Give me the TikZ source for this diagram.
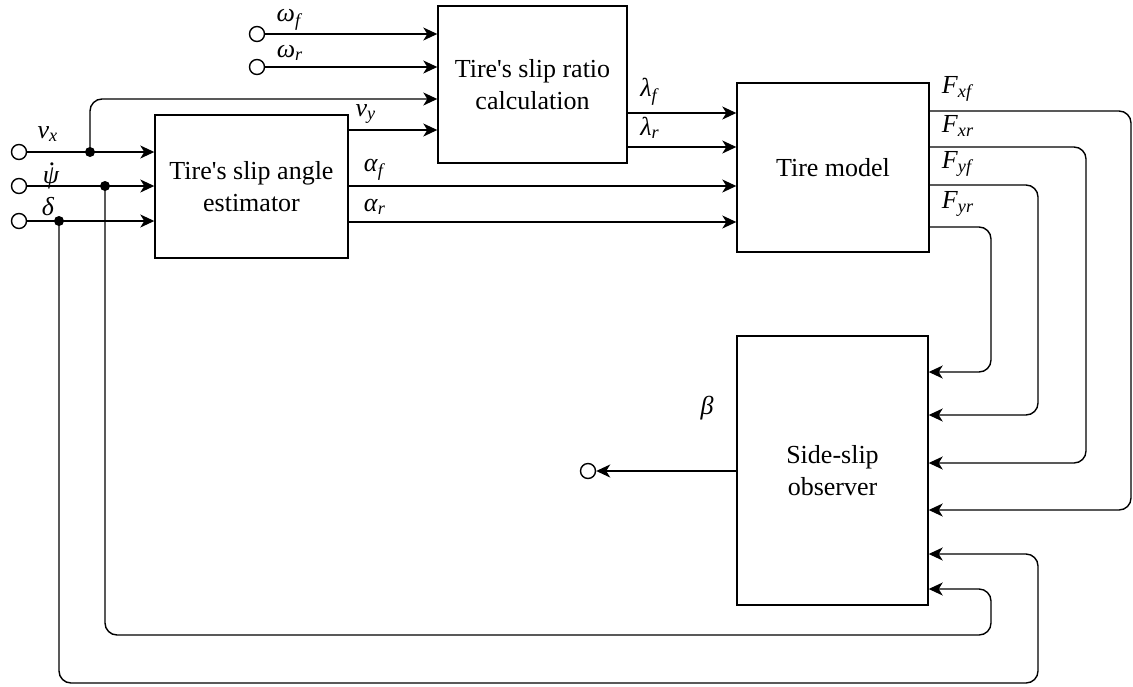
\documentclass[tikz,border=0pt]{standalone}
\usepackage{fontspec}
\setmainfont{Liberation Serif}
\usetikzlibrary{positioning, arrows.meta, calc}

% italic symbol with italic subscript
\newcommand{\sig}[2]{\textit{#1}\textsubscript{\textit{#2}}}
% yaw rate, psi with a dot on top
\newcommand{\yawrate}{\textit{ψ\llap{\raisebox{0.72em}{.}\hspace{0.12em}}}}

\begin{document}
\begin{tikzpicture}[x=0.5pt, y=-0.5pt,
    font=\fontsize{13}{16}\selectfont,
    box/.style={draw, line width=0.7pt, inner sep=0pt, align=center},
    link/.style={-{Stealth[length=7pt, width=6.5pt, inset=2pt]}, line width=0.7pt},
    wire/.style={line width=0.7pt, rounded corners=6pt},
    port/.style={circle, draw, line width=0.7pt, inner sep=0pt, minimum size=7.5pt},
    tap/.style={circle, fill, inner sep=0pt, minimum size=5pt},
    lab/.style={inner sep=0pt}]
  \useasboundingbox (0,0) rectangle (1133,686);

  % blocks
  \node[box, minimum width=96.5pt, minimum height=71.5pt] (est) at (251.5,186.5)
    {Tire\textquotesingle s slip angle\\estimator};
  \node[box, minimum width=94.5pt, minimum height=78.5pt] (ratio) at (532.5,84.5)
    {Tire\textquotesingle s slip ratio\\calculation};
  \node[box, minimum width=96pt, minimum height=84.5pt] (tire) at (833,167.5) {Tire model};
  \node[box, minimum width=95.5pt, minimum height=134.5pt] (obs) at (832.5,470.5)
    {Side-slip\\observer};

  % inputs and output
  \node[port] (vx) at (19,152) {};
  \node[port] (psi) at (19,186) {};
  \node[port] (delta) at (19,221) {};
  \node[port] (wf) at (257,34) {};
  \node[port] (wr) at (257,67) {};
  \node[port] (beta) at (588,471) {};

  \node[tap] (tvx) at (90,152) {};
  \node[tap] (tpsi) at (105,186) {};
  \node[tap] (tdelta) at (59,221) {};

  % labels
  \node[lab] at (48,134) {\sig{v}{x}};
  \node[lab] at (51,176) {\yawrate};
  \node[lab] at (48,207) {\textit{δ}};
  \node[lab] at (290,20) {\sig{ω}{f}};
  \node[lab] at (290,53) {\sig{ω}{r}};
  \node[lab] at (366,114) {\sig{v}{y}};
  \node[lab] at (375,170) {\sig{α}{f}};
  \node[lab] at (375,207) {\sig{α}{r}};
  \node[lab] at (650,92) {\sig{λ}{f}};
  \node[lab] at (650,128) {\sig{λ}{r}};
  \node[lab] at (958,89) {\sig{F}{xf}};
  \node[lab] at (958,126) {\sig{F}{xr}};
  \node[lab] at (958,164) {\sig{F}{yf}};
  \node[lab] at (958,204) {\sig{F}{yr}};
  \node[lab] at (707,408) {\textit{β}};

  % signals into the estimator
  \draw[link] (vx) -- (est.west |- vx);
  \draw[link] (psi) -- (est.west |- psi);
  \draw[link] (delta) -- (est.west |- delta);

  % slip ratio inputs
  \draw[link] (wf) -- (ratio.west |- wf);
  \draw[link] (wr) -- (ratio.west |- wr);
  \draw[link, rounded corners=6pt] (tvx.center) |- (ratio.west |- 0,99);
  \draw[link] (est.east |- 0,130) -- (ratio.west |- 0,130);

  % tire model inputs
  \draw[link] (ratio.east |- 0,113) -- (tire.west |- 0,113);
  \draw[link] (ratio.east |- 0,147) -- (tire.west |- 0,147);
  \draw[link] (est.east |- 0,186) -- (tire.west |- 0,186);
  \draw[link] (est.east |- 0,222) -- (tire.west |- 0,222);

  % tire forces to the observer
  \draw[link, wire] (tire.east |- 0,111) -| (1131,510) -- (obs.east |- 0,510);
  \draw[link, wire] (tire.east |- 0,147) -| (1086,463) -- (obs.east |- 0,463);
  \draw[link, wire] (tire.east |- 0,185) -| (1038,415) -- (obs.east |- 0,415);
  \draw[link, wire] (tire.east |- 0,227) -| (991,372) -- (obs.east |- 0,372);

  % measured signals fed back around
  \draw[link, wire] (tpsi.center) -- (105,635) -| (991,589) -- (obs.east |- 0,589);
  \draw[link, wire] (tdelta.center) -- (59,683) -| (1038,554) -- (obs.east |- 0,554);

  % estimated side-slip angle
  \draw[link] (obs.west |- beta) -- (beta);
\end{tikzpicture}
\end{document}
